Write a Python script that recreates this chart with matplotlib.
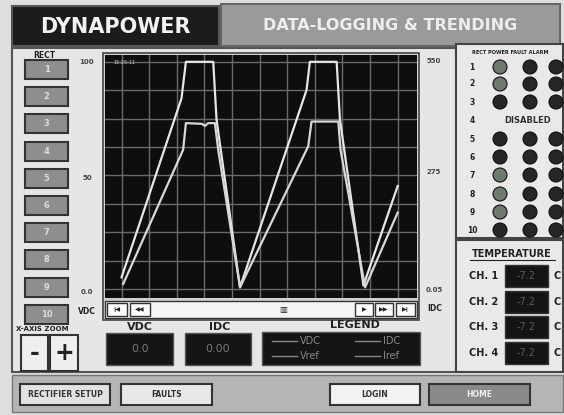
import matplotlib
matplotlib.use("Agg")
import matplotlib.pyplot as plt
from matplotlib.patches import Rectangle, Circle

# ---------------- data ----------------
vdc_x = [0, 21.7, 23.3, 33.2, 34.4, 42.9, 67.0, 68.2, 77.9, 79.1, 87.6, 100]
vdc_y = [5.1, 83.9, 100, 100, 74.5, 0.7, 87.6, 100, 100, 74.5, 1.5, 45.3]
idc_x = [0.6, 22.3, 23.3, 29.0, 30.2, 31.4, 33.8, 35.0, 42.9, 67.6, 68.8, 78.5, 79.3, 88.2, 100]
idc_y = [2.2, 61.3, 73.0, 72.7, 71.8, 73.0, 73.0, 61.3, 0.7, 62.8, 73.7, 73.7, 61.3, 0.7, 33.6]
left_axis_labels = ["100", "50", "0.0"]
right_axis_labels = ["550", "275", "0.05"]
rect_buttons = ["1", "2", "3", "4", "5", "6", "7", "8", "9", "10"]
status_rows = ["1", "2", "3", "4", "5", "6", "7", "8", "9", "10"]
status_power_lit = [True, True, False, None, False, False, True, True, True, False]
temp_channels = ["CH. 1", "CH. 2", "CH. 3", "CH. 4"]
temp_values = ["-7.2", "-7.2", "-7.2", "-7.2"]
vdc_reading = "0.0"
idc_reading = "0.00"
timestamp = "15:25:11"

W, H = 564, 415
fig = plt.figure(figsize=(W / 100, H / 100), dpi=100)
fig.patch.set_facecolor("#dedede")

bg = fig.add_axes([0, 0, 1, 1])
bg.set_xlim(0, W)
bg.set_ylim(H, 0)
bg.axis("off")


def rect(x0, y0, x1, y1, fc, ec="#3a3a3a", lw=1.2, z=1):
    bg.add_patch(Rectangle((x0, y0), x1 - x0, y1 - y0, facecolor=fc,
                           edgecolor=ec, linewidth=lw, zorder=z))


def txt(x, y, s, size=7, color="#222222", weight="bold", ha="center", **kw):
    bg.text(x, y, s, fontsize=size, color=color, fontweight=weight,
            ha=ha, va="center", zorder=5, **kw)


# header
rect(12, 6, 219, 46, "#1c1c1c", ec="#555555", lw=1.5)
txt(115, 27, "DYNAPOWER", size=15, color="#f2f2f2")
rect(221, 4, 560, 46, "#9a9a9a", ec="#666666", lw=1.5)
txt(390, 25, "DATA-LOGGING & TRENDING", size=11.5, color="#eeeeee")

# main panel
rect(12, 48, 456, 372, "#e6e6e6", ec="#555555", lw=1.5)

# rect buttons
txt(44, 55, "RECT", size=5.5)
for i, lab in enumerate(rect_buttons):
    y0 = 60 + i * 27.2
    rect(25, y0, 68, y0 + 19, "#8e8e8e", ec="#333333", lw=1.5)
    txt(46.5, y0 + 9.5, lab, size=6, color="#dddddd")

# x-axis zoom
txt(42, 329, "X-AXIS ZOOM", size=5)
rect(21, 335, 48, 371, "#efefef", ec="#333333", lw=1.5)
rect(50, 335, 78, 371, "#efefef", ec="#333333", lw=1.5)
txt(34.5, 353, "-", size=17, color="#222222")
txt(64, 353, "+", size=17, color="#222222")

# axis side labels
for lab, yy in zip(left_axis_labels, [62, 178, 292]):
    txt(87, yy, lab, size=5, color="#444444")
for lab, yy in zip(right_axis_labels, [61, 172, 290]):
    txt(434, yy, lab, size=5, color="#444444")
txt(87, 311, "VDC", size=5.5)
txt(435, 308, "IDC", size=5.5)

# plot frame
rect(103, 53, 419, 320, "#d0d0d0", ec="#444444", lw=1.2)

# nav bar
rect(105, 301, 417, 318, "#f4f4f4", ec="#333333", lw=1)
nav = [(107, 127, "|◀"), (130, 150, "◀◀"), (355, 373, "▶"), (375, 393, "▶▶"), (396, 415, "▶|")]
for x0, x1, s in nav:
    rect(x0, 303, x1, 316, "#fbfbfb", ec="#333333", lw=1)
    txt((x0 + x1) / 2, 309.5, s, size=4.5)
txt(283, 309.5, "▥", size=6)

# readouts
txt(140, 327, "VDC", size=8)
rect(106, 333, 173, 365, "#151515", ec="#555555", lw=1)
txt(140, 349, vdc_reading, size=8, color="#777777", weight="normal")
txt(220, 327, "IDC", size=8)
rect(185, 333, 251, 365, "#151515", ec="#555555", lw=1)
txt(218, 349, idc_reading, size=8, color="#777777", weight="normal")
txt(355, 325, "LEGEND", size=8)
rect(262, 332, 420, 365, "#151515", ec="#555555", lw=1)
for (lx, ly, lab) in [(272, 341, "VDC"), (355, 341, "IDC"), (272, 356, "Vref"), (355, 356, "Iref")]:
    bg.plot([lx, lx + 25], [ly, ly], color="#888888", lw=1, zorder=5)
    txt(lx + 28, ly, lab, size=7, color="#888888", weight="normal", ha="left")

# status panel
rect(456, 44, 563, 238, "#e9e9e9", ec="#444444", lw=1.5)
txt(510, 52, "RECT POWER FAULT ALARM", size=3.6)
col_x = [500, 530, 556]
row_y = [67, 84, 102, 120, 139, 157, 175, 194, 212, 230]
for r, yy, lit in zip(status_rows, row_y, status_power_lit):
    txt(472, yy, r, size=5.5)
    if lit is None:
        txt(528, yy, "DISABLED", size=6, color="#333333")
        continue
    for j, cx in enumerate(col_x):
        fc = "#6e7a6e" if (j == 0 and lit) else "#262626"
        bg.add_patch(Circle((cx, yy), 7, facecolor=fc, edgecolor="#111111", lw=0.8, zorder=4))

# temperature panel
rect(456, 240, 563, 372, "#e9e9e9", ec="#444444", lw=1.5)
txt(512, 254, "TEMPERATURE", size=7)
bg.plot([470, 555], [260, 260], color="#222222", lw=0.8, zorder=5)
for k, (ch, val) in enumerate(zip(temp_channels, temp_values)):
    yy = 276 + k * 25.5
    txt(484, yy, ch, size=7, ha="center")
    rect(505, yy - 11, 548, yy + 11, "#141414", ec="#333333", lw=1)
    txt(526, yy, val, size=7, color="#5a5a5a", weight="normal")
    txt(557, yy, "C", size=7, ha="center")

# bottom bar
rect(12, 375, 563, 412, "#b5b5b5", ec="#777777", lw=1)
for x0, x1, lab, fc in [(20, 110, "RECTIFIER SETUP", "#e2e2e2"), (121, 212, "FAULTS", "#e8e8e8"),
                        (330, 420, "LOGIN", "#f2f2f2"), (429, 530, "HOME", "#8a8a8a")]:
    rect(x0, 384, x1, 405, fc, ec="#333333", lw=1.5)
    txt((x0 + x1) / 2, 394.5, lab, size=5.5, color="#333333" if lab != "HOME" else "#eeeeee")

# ---------------- trend plot ----------------
ax = fig.add_axes([105 / W, 1 - 298 / H, 312 / W, 243 / H])
ax.set_facecolor("#0e0e0e")
ax.set_xlim(-6, 107)
ax.set_ylim(-4, 103)
ax.set_xticks(range(0, 101, 10))
ax.set_yticks([i * 12.5 for i in range(9)])
ax.grid(True, color="#6a6a6a", lw=1)
ax.tick_params(length=0, labelbottom=False, labelleft=False)
for s in ax.spines.values():
    s.set_visible(False)
ax.plot(vdc_x, vdc_y, color="#e6e6e6", lw=1.6, zorder=3)
ax.plot(idc_x, idc_y, color="#d8d8d8", lw=1.6, zorder=3)
ax.text(-3, 101, timestamp, color="#cccccc", fontsize=3.5, va="top", ha="left")

fig.savefig("out.png", dpi=100, facecolor=fig.get_facecolor())
